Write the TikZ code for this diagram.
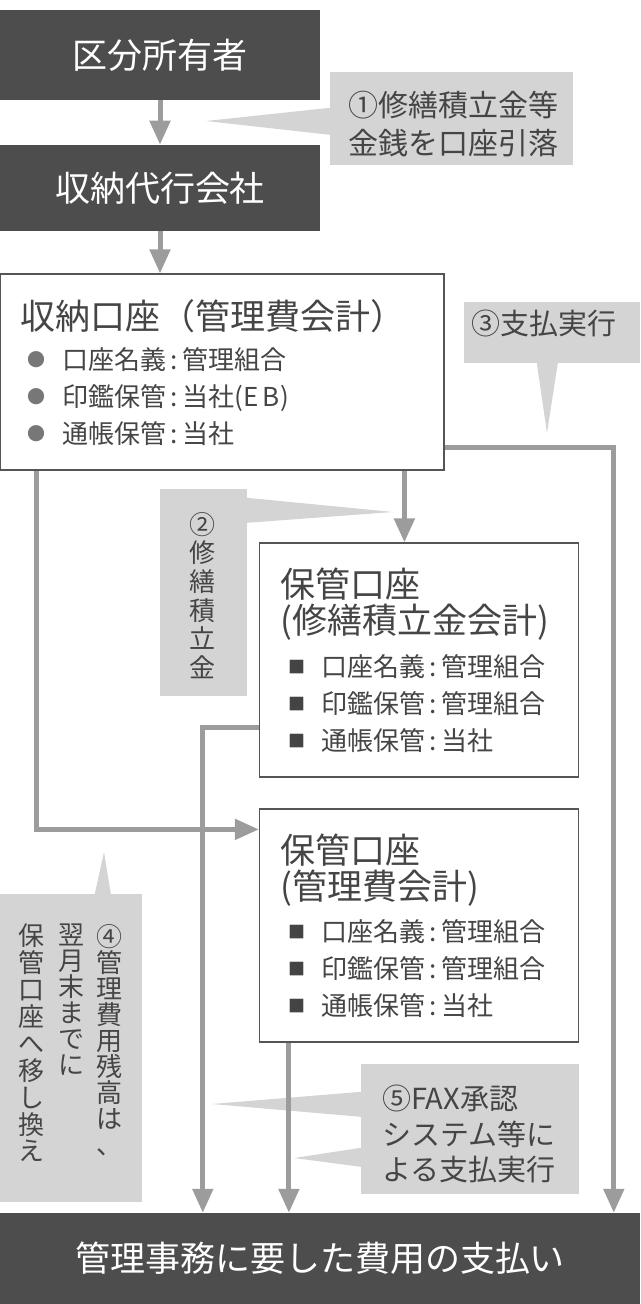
\documentclass[tikz,border=0pt]{standalone}
\usepackage{fontspec}
\setmainfont{Noto Sans CJK JP}
\usepackage{tikz}
\usetikzlibrary{positioning,calc,arrows.meta}
\definecolor{boxdark}{HTML}{4D4D4D}
\definecolor{textgray}{HTML}{454545}
\definecolor{edgegray}{HTML}{555555}
\definecolor{bubblegray}{HTML}{D4D4D4}
\definecolor{flowgray}{HTML}{9C9C9C}
\definecolor{bulgray}{HTML}{777777}
\definecolor{sqgray}{HTML}{444444}
\tikzstyle{darkbox} = [rectangle, fill=boxdark, text=white, inner sep=0pt, font=\fontsize{35}{40}\selectfont]
\tikzstyle{account} = [rectangle, draw=edgegray, line width=1.2pt, fill=white, inner sep=0pt]
\tikzstyle{bubble}  = [rectangle, fill=bubblegray, inner sep=0pt]
\tikzstyle{heading} = [inner sep=0pt, align=left, text=textgray]
\tikzstyle{items}   = [anchor=north west, inner sep=0pt, align=left, text=textgray, font=\fontsize{26}{37}\selectfont]
\tikzstyle{note}    = [inner sep=0pt, align=left, text=textgray, font=\fontsize{29}{36}\selectfont]
\tikzstyle{vnote}   = [anchor=north, inner sep=0pt, align=center, text=textgray]
\tikzstyle{flow}    = [draw=flowgray, line width=5pt, -{Triangle[width=20pt,length=24pt]}]
\newcommand{\dotmark}{\makebox[18pt][c]{\raisebox{3.5pt}{\fontsize{18}{18}\selectfont\color{bulgray}●}}\hspace{17pt}}
\newcommand{\sqmark}{\makebox[18pt][c]{\raisebox{3.5pt}{\fontsize{17}{17}\selectfont\color{sqgray}■}}\hspace{16pt}}

\begin{document}
\begin{tikzpicture}[x=1pt, y=-1pt]
	\useasboundingbox (0,0) rectangle (640,1304);
	% dark boxes
	\node [darkbox, minimum width=320pt, minimum height=90pt] (owner) at (160,55) {区分所有者};
	\node [darkbox, minimum width=320pt, minimum height=86pt, below=44.5pt of owner] (agent) {収納代行会社};
	\node [darkbox, minimum width=640pt, minimum height=91pt] (pay) at (320,1258.5) {管理事務に要した費用の支払い};

	% accounts
	\node [account, minimum width=444pt, minimum height=196pt] (recv) at (222,372) {};
	\node [account, minimum width=319pt, minimum height=234pt] (repair) at (419,660) {};
	\node [account, minimum width=319pt, minimum height=233pt] (mgmt) at (419,925.5) {};

	\node [heading, anchor=west, font=\fontsize{35}{36}\selectfont] (recvT) at ($(recv.north west)+(21,43)$) {収納口座（管理費会計）};
	\node [items] (recvI) at ($(recv.north west)+(28,74)$)
		{\dotmark 口座名義\,:\,管理組合\\ \dotmark 印鑑保管\,:\,当社(E\,B)\\ \dotmark 通帳保管\,:\,当社};
	\node [heading, anchor=north west, font=\fontsize{35}{36.5}\selectfont] (repairT) at ($(repair.north west)+(21.5,25)$)
		{保管口座\\(修繕積立金会計)};
	\node [items] (repairI) at ($(repair.north west)+(28.5,112)$)
		{\sqmark 口座名義\,:\,管理組合\\ \sqmark 印鑑保管\,:\,管理組合\\ \sqmark 通帳保管\,:\,当社};
	\node [heading, anchor=north west, font=\fontsize{35}{36.5}\selectfont] (mgmtT) at ($(mgmt.north west)+(21.5,25)$)
		{保管口座\\(管理費会計)};
	\node [items] (mgmtI) at ($(mgmt.north west)+(28.5,111)$)
		{\sqmark 口座名義\,:\,管理組合\\ \sqmark 印鑑保管\,:\,管理組合\\ \sqmark 通帳保管\,:\,当社};

	% callouts
	\node [bubble, minimum width=243pt, minimum height=93pt] (c1) at (451.5,118.5) {};
	\node [bubble, minimum width=176pt, minimum height=61pt] (c3) at (552,332.5) {};
	\node [bubble, minimum width=87pt, minimum height=207pt] (c2) at (203.5,592.5) {};
	\node [bubble, minimum width=142pt, minimum height=308pt] (c4) at (71,1048) {};
	\node [bubble, minimum width=218pt, minimum height=130pt] (c5) at (470,1129) {};
	\coordinate (tip1) at (206,121);
	\coordinate (tip3) at (547,433);
	\coordinate (tip2) at (393,512);
	\coordinate (tip4) at (104,852);
	\coordinate (tip5a) at (212,1104);
	\coordinate (tip5b) at (294,1158);
	\fill [bubblegray] ($(c1.north west)+(0,36)$) -- (tip1) -- ($(c1.north west)+(0,63)$) -- cycle;
	\fill [bubblegray] ($(c3.south west)+(73,0)$) -- (tip3) -- ($(c3.south west)+(94,0)$) -- cycle;
	\fill [bubblegray] ($(c2.north east)+(0,9)$) -- (tip2) -- ($(c2.north east)+(0,34)$) -- cycle;
	\fill [bubblegray] ($(c4.north west)+(95,0)$) -- (tip4) -- ($(c4.north west)+(111,0)$) -- cycle;
	\fill [bubblegray] ($(c5.north west)+(0,28)$) -- (tip5a) -- ($(c5.north west)+(0,53)$) -- cycle;
	\fill [bubblegray] ($(c5.north west)+(0,84)$) -- (tip5b) -- ($(c5.north west)+(0,103)$) -- cycle;

	\node [note, anchor=north west, font=\fontsize{30}{38}\selectfont] (n1) at ($(c1.north west)+(18,19.5)$) {①修繕積立金等\\金銭を口座引落};
	\node [note, anchor=west] (n3) at ($(c3.west)+(7,-9.5)$) {③支払実行};
	\node [note, anchor=north west, font=\fontsize{29}{35.5}\selectfont] (n5) at ($(c5.north west)+(21,21)$) {⑤FAX承認\\システム等に\\よる支払実行};
	\node [vnote, font=\fontsize{26}{28.7}\selectfont] (n2) at ($(c2.north)+(-1,23)$) {②\\修\\繕\\積\\立\\金};
	\node [vnote, font=\fontsize{26}{26}\selectfont] (n4a) at ($(c4.north west)+(110,30)$) {④\\管\\理\\費\\用\\残\\高\\は\\、};
	\node [vnote, font=\fontsize{26}{26}\selectfont] (n4b) at ($(c4.north west)+(72,30)$) {翌\\月\\末\\ま\\で\\に};
	\node [vnote, font=\fontsize{26}{26.9}\selectfont] (n4c) at ($(c4.north west)+(32,30)$) {保\\管\\口\\座\\へ\\移\\し\\換\\え};

	% connector ends
	\coordinate (recvM) at ($(recv.south west)+(405,0)$);
	\coordinate (recvL) at ($(recv.south west)+(37,0)$);
	\coordinate (recvR) at ($(recv.south east)+(0,-23)$);
	\coordinate (repairL) at ($(repair.south west)+(0,-50)$);
	\coordinate (mgmtB) at ($(mgmt.south west)+(30,0)$);
	\coordinate (mgmtIn) at ($(mgmt.north west)+(0,21)$);
	\coordinate (payL) at ($(pay.north west)+(203,0)$);
	\coordinate (payR) at ($(pay.north west)+(614,0)$);

	% draw edges
	\path [flow] (owner) -- (agent);
	\path [flow] (agent.south) -- (agent.south |- recv.north);
	\path [flow] (recvM) -- (recvM |- repair.north);
	\path [flow] (recvR) -| (payR);
	\path [flow] (recvL) |- (mgmtIn);
	\path [flow] (repairL) -| (payL);
	\path [flow] (mgmtB) -- (mgmtB |- pay.north);
\end{tikzpicture}
\end{document}
